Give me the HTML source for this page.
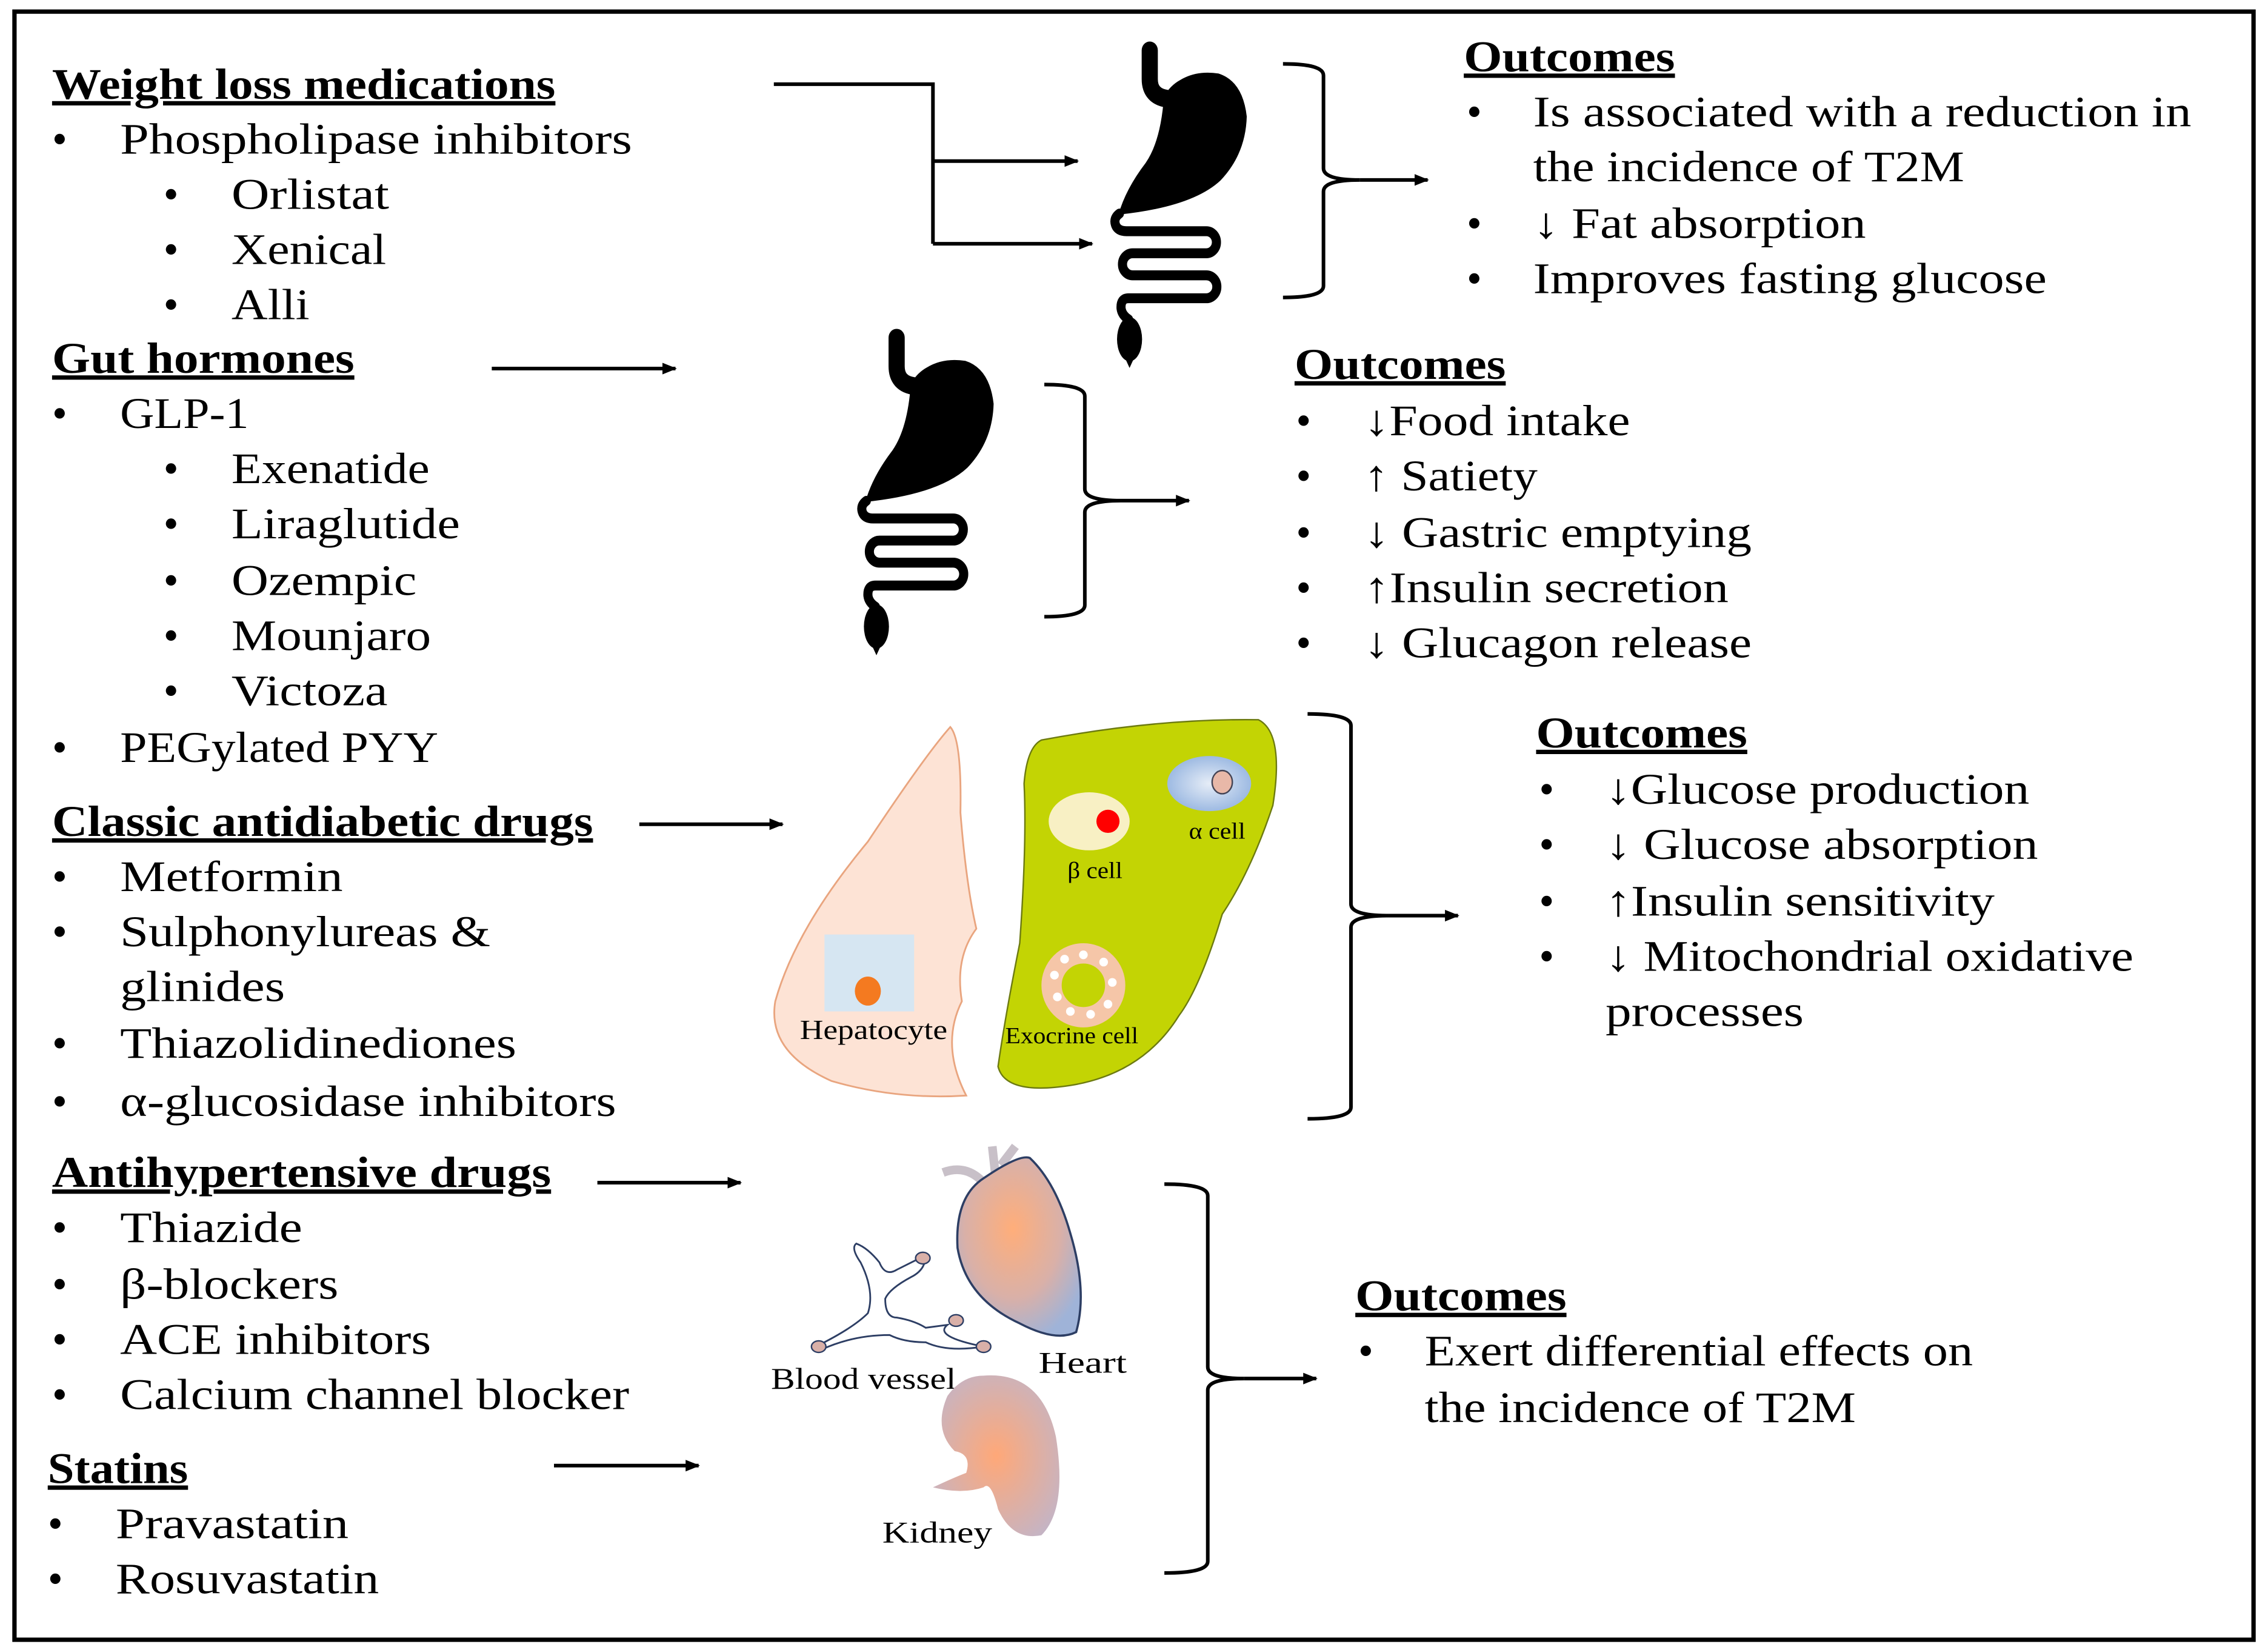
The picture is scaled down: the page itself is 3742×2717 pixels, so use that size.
<!DOCTYPE html>
<html><head><meta charset="utf-8"><style>
html,body{margin:0;padding:0;background:#fff}
svg{display:block}
text{font-family:"Liberation Serif",serif;font-size:30px;fill:#000}
.h{font-weight:bold;text-decoration:underline}
.s{font-size:19px}
</style></head><body>
<svg width="3742" height="2717" viewBox="0 0 1568 1135" preserveAspectRatio="none" xmlns="http://www.w3.org/2000/svg">
<defs>
<marker id="a" markerWidth="10" markerHeight="10" refX="9" refY="5" orient="auto" markerUnits="userSpaceOnUse"><path d="M0,1 L10,5 L0,9 Z" fill="#000"/></marker>
<radialGradient id="hg" cx="45%" cy="40%" r="65%"><stop offset="0" stop-color="#ffae7a"/><stop offset="0.6" stop-color="#d9b0a8"/><stop offset="1" stop-color="#9fb3d8"/></radialGradient>
<radialGradient id="kg" cx="50%" cy="50%" r="60%"><stop offset="0" stop-color="#ffa878"/><stop offset="1" stop-color="#c5b4c4"/></radialGradient>
<radialGradient id="ag" cx="50%" cy="50%" r="60%"><stop offset="0" stop-color="#e6edf7"/><stop offset="1" stop-color="#8fb0de"/></radialGradient>
<g id="gut">
<path d="M350,90 V220 Q350,300 440,310" fill="none" stroke="#000" stroke-width="80" stroke-linecap="round"/>
<path d="M420,300 Q450,250 500,225 Q580,180 690,195 Q810,230 830,390 Q825,560 700,680 Q560,800 195,835 Q230,720 330,600 Q405,500 420,300 Z" fill="#000"/>
<path d="M200,830 Q170,850 180,880 Q190,910 235,910 H630 A50,50 0 0 1 630,1010 H265 A50,50 0 0 0 265,1110 H630 A52,52 0 0 1 630,1214 H245 Q205,1214 208,1260 Q212,1290 245,1310" fill="none" stroke="#000" stroke-width="45" stroke-linecap="round"/>
<ellipse cx="250" cy="1400" rx="62" ry="100" fill="#000"/>
<path d="M225,1480 L250,1530 L275,1480 Z" fill="#000"/>
</g>
</defs>
<rect x="10" y="8" width="1548" height="1122" fill="none" stroke="#000" stroke-width="3"/>

<g lengthAdjust="spacingAndGlyphs">
<text x="36" y="68" class="h" textLength="348" lengthAdjust="spacingAndGlyphs">Weight loss medications</text>
<text x="36" y="106">•</text><text x="83" y="106" textLength="354" lengthAdjust="spacingAndGlyphs">Phospholipase inhibitors</text>
<text x="113" y="144">•</text><text x="160" y="144" textLength="109" lengthAdjust="spacingAndGlyphs">Orlistat</text>
<text x="113" y="182">•</text><text x="160" y="182" textLength="107" lengthAdjust="spacingAndGlyphs">Xenical</text>
<text x="113" y="220">•</text><text x="160" y="220" textLength="54" lengthAdjust="spacingAndGlyphs">Alli</text>
<text x="36" y="257" class="h" textLength="209" lengthAdjust="spacingAndGlyphs">Gut hormones</text>
<text x="36" y="295">•</text><text x="83" y="295" textLength="89" lengthAdjust="spacingAndGlyphs">GLP-1</text>
<text x="113" y="333">•</text><text x="160" y="333" textLength="137" lengthAdjust="spacingAndGlyphs">Exenatide</text>
<text x="113" y="371">•</text><text x="160" y="371" textLength="158" lengthAdjust="spacingAndGlyphs">Liraglutide</text>
<text x="113" y="410">•</text><text x="160" y="410" textLength="128" lengthAdjust="spacingAndGlyphs">Ozempic</text>
<text x="113" y="448">•</text><text x="160" y="448" textLength="138" lengthAdjust="spacingAndGlyphs">Mounjaro</text>
<text x="113" y="486">•</text><text x="160" y="486" textLength="108" lengthAdjust="spacingAndGlyphs">Victoza</text>
<text x="36" y="525">•</text><text x="83" y="525" textLength="220" lengthAdjust="spacingAndGlyphs">PEGylated PYY</text>
<text x="36" y="576" class="h" textLength="374" lengthAdjust="spacingAndGlyphs">Classic antidiabetic  drugs</text>
<text x="36" y="614">•</text><text x="83" y="614" textLength="154" lengthAdjust="spacingAndGlyphs">Metformin</text>
<text x="36" y="652">•</text><text x="83" y="652" textLength="256" lengthAdjust="spacingAndGlyphs">Sulphonylureas &amp;</text>
<text x="83" y="690" textLength="114" lengthAdjust="spacingAndGlyphs">glinides</text>
<text x="36" y="729">•</text><text x="83" y="729" textLength="274" lengthAdjust="spacingAndGlyphs">Thiazolidinediones</text>
<text x="36" y="769">•</text><text x="83" y="769" textLength="343" lengthAdjust="spacingAndGlyphs">α-glucosidase inhibitors</text>
<text x="36" y="818" class="h" textLength="345" lengthAdjust="spacingAndGlyphs">Antihypertensive  drugs</text>
<text x="36" y="856">•</text><text x="83" y="856" textLength="126" lengthAdjust="spacingAndGlyphs">Thiazide</text>
<text x="36" y="895">•</text><text x="83" y="895" textLength="151" lengthAdjust="spacingAndGlyphs">β-blockers</text>
<text x="36" y="933">•</text><text x="83" y="933" textLength="215" lengthAdjust="spacingAndGlyphs">ACE inhibitors</text>
<text x="36" y="971">•</text><text x="83" y="971" textLength="352" lengthAdjust="spacingAndGlyphs">Calcium channel blocker</text>
<text x="33" y="1022" class="h" textLength="97" lengthAdjust="spacingAndGlyphs">Statins</text>
<text x="33" y="1060">•</text><text x="80" y="1060" textLength="161" lengthAdjust="spacingAndGlyphs">Pravastatin</text>
<text x="33" y="1098">•</text><text x="80" y="1098" textLength="182" lengthAdjust="spacingAndGlyphs">Rosuvastatin</text>
</g>

<!-- arrows -->
<g stroke="#000" stroke-width="2.5" fill="none">
<path d="M535,58 H645 V168"/>
<path d="M645,111 H745" marker-end="url(#a)"/>
<path d="M645,168 H755" marker-end="url(#a)"/>
<path d="M340,254 H467" marker-end="url(#a)"/>
<path d="M442,568 H541" marker-end="url(#a)"/>
<path d="M413,815 H512" marker-end="url(#a)"/>
<path d="M383,1010 H483" marker-end="url(#a)"/>
<path d="M887,44 Q915,44 915,52 V116 Q915,124 940,124 Q915,124 915,132 V197 Q915,205 887,205"/>
<path d="M940,124 H987" marker-end="url(#a)"/>
<path d="M722,265 Q750,265 750,273 V337 Q750,345 775,345 Q750,345 750,353 V417 Q750,425 722,425"/>
<path d="M775,345 H822" marker-end="url(#a)"/>
<path d="M904,492 Q934,492 934,500 V623 Q934,631 960,631 Q934,631 934,639 V763 Q934,771 904,771"/>
<path d="M960,631 H1008" marker-end="url(#a)"/>
<path d="M805,816 Q835,816 835,824 V942 Q835,950 860,950 Q835,950 835,958 V1076 Q835,1084 805,1084"/>
<path d="M860,950 H910" marker-end="url(#a)"/>
</g>

<!-- guts -->
<use href="#gut" transform="translate(746,21) scale(0.1397,0.152)"/>
<use href="#gut" transform="translate(571,219) scale(0.1397,0.152)"/>

<!-- liver -->
<path d="M657,501 Q665,510 664,560 Q668,610 675,640 Q660,660 665,690 Q650,720 668,755 Q620,758 575,745 Q530,725 536,690 Q550,640 600,580 Q640,520 657,501 Z" fill="#fde3d5" stroke="#e9a57f" stroke-width="1.2"/>
<rect x="570" y="644" width="62" height="53" fill="#d6e6f2"/>
<ellipse cx="600" cy="683" rx="9" ry="10" fill="#f47a20"/>
<text x="553" y="716" class="s" textLength="102" lengthAdjust="spacingAndGlyphs">Hepatocyte</text>
<!-- pancreas -->
<path d="M720,510 Q800,495 870,496 Q888,505 880,555 Q865,600 845,630 Q830,680 815,700 Q790,740 740,748 Q695,755 690,735 Q695,700 705,650 Q710,580 708,540 Q710,515 720,510 Z" fill="#c3d404" stroke="#6c7a10" stroke-width="1"/>
<ellipse cx="753" cy="566" rx="28" ry="20" fill="#f8f0c4"/>
<circle cx="766" cy="566" r="8" fill="#f00"/>
<text x="738" y="605" style="font-size:16px" textLength="38" lengthAdjust="spacingAndGlyphs">β cell</text>
<ellipse cx="836" cy="540" rx="29" ry="19" fill="url(#ag)"/>
<ellipse cx="845" cy="539" rx="7" ry="8" fill="#e8b8a8" stroke="#445" stroke-width="1"/>
<text x="822" y="578" style="font-size:16px" textLength="39" lengthAdjust="spacingAndGlyphs">α cell</text>
<circle cx="749" cy="679" r="22" fill="none" stroke="#f5c6a8" stroke-width="14"/>
<g fill="#fff"><circle cx="749" cy="658" r="3"/><circle cx="763" cy="663" r="3"/><circle cx="769" cy="677" r="3"/><circle cx="766" cy="692" r="3"/><circle cx="754" cy="699" r="3"/><circle cx="740" cy="697" r="3"/><circle cx="731" cy="687" r="3"/><circle cx="729" cy="672" r="3"/><circle cx="736" cy="661" r="3"/></g>
<text x="695" y="719" style="font-size:16px" textLength="92" lengthAdjust="spacingAndGlyphs">Exocrine cell</text>

<!-- heart -->
<path d="M652,808 Q668,802 680,815 M688,808 L686,790 M692,803 L702,790" stroke="#c8c0c8" stroke-width="6" fill="none"/>
<path d="M680,812 Q705,795 712,798 Q730,815 740,850 Q752,890 744,918 Q730,925 705,912 Q668,895 662,860 Q660,825 680,812 Z" fill="url(#hg)" stroke="#2d3e64" stroke-width="1.5"/>
<text x="718" y="946" style="font-size:21px" textLength="61" lengthAdjust="spacingAndGlyphs">Heart</text>
<!-- vessel -->
<path d="M566,927 Q590,915 600,905 Q605,890 595,870 Q588,860 592,857 Q600,860 608,870 Q612,880 620,875 Q630,870 640,865 Q640,875 630,880 Q615,888 612,895 Q612,908 620,908 Q632,910 640,915 L655,913 Q645,921 680,928 Q655,932 640,925 Q625,925 615,920 Q590,920 568,930 Z" fill="#fff" stroke="#2d3e64" stroke-width="1.2"/>
<ellipse cx="566" cy="928" rx="5" ry="4" fill="#d9b0a8" stroke="#2d3e64"/>
<ellipse cx="638" cy="867" rx="5" ry="4" fill="#d9b0a8" stroke="#2d3e64"/>
<ellipse cx="661" cy="910" rx="5" ry="4" fill="#d9b0a8" stroke="#2d3e64"/>
<ellipse cx="680" cy="928" rx="5" ry="4" fill="#d9b0a8" stroke="#2d3e64"/>
<text x="533" y="957" style="font-size:21px" textLength="128" lengthAdjust="spacingAndGlyphs">Blood vessel</text>
<!-- kidney -->
<path d="M680,948 Q720,945 730,990 Q738,1040 720,1058 Q700,1062 690,1040 Q685,1020 680,1025 Q665,1030 645,1025 Q660,1018 668,1015 Q672,1002 660,1000 Q645,985 655,962 Q665,948 680,948 Z" fill="url(#kg)"/>
<text x="610" y="1063" style="font-size:21px" textLength="76" lengthAdjust="spacingAndGlyphs">Kidney</text>

<!-- outcomes -->
<text x="1012" y="49" class="h" textLength="146" lengthAdjust="spacingAndGlyphs">Outcomes</text>
<text x="1014" y="87">•</text><text x="1060" y="87" textLength="455" lengthAdjust="spacingAndGlyphs">Is associated with a reduction in</text>
<text x="1060" y="125" textLength="298" lengthAdjust="spacingAndGlyphs">the incidence of T2M</text>
<text x="1014" y="164">•</text><text x="1060" y="164" textLength="230" lengthAdjust="spacingAndGlyphs">↓ Fat absorption</text>
<text x="1014" y="202">•</text><text x="1060" y="202" textLength="355" lengthAdjust="spacingAndGlyphs">Improves fasting glucose</text>

<text x="895" y="261" class="h" textLength="146" lengthAdjust="spacingAndGlyphs">Outcomes</text>
<text x="896" y="300">•</text><text x="943" y="300" textLength="184" lengthAdjust="spacingAndGlyphs">↓Food intake</text>
<text x="896" y="338">•</text><text x="943" y="338" textLength="120" lengthAdjust="spacingAndGlyphs">↑ Satiety</text>
<text x="896" y="377">•</text><text x="943" y="377" textLength="268" lengthAdjust="spacingAndGlyphs">↓ Gastric emptying</text>
<text x="896" y="415">•</text><text x="943" y="415" textLength="252" lengthAdjust="spacingAndGlyphs">↑Insulin secretion</text>
<text x="896" y="453">•</text><text x="943" y="453" textLength="268" lengthAdjust="spacingAndGlyphs">↓ Glucagon release</text>

<text x="1062" y="515" class="h" textLength="146" lengthAdjust="spacingAndGlyphs">Outcomes</text>
<text x="1064" y="554">•</text><text x="1110" y="554" textLength="293" lengthAdjust="spacingAndGlyphs">↓Glucose production</text>
<text x="1064" y="592">•</text><text x="1110" y="592" textLength="299" lengthAdjust="spacingAndGlyphs">↓ Glucose absorption</text>
<text x="1064" y="631">•</text><text x="1110" y="631" textLength="269" lengthAdjust="spacingAndGlyphs">↑Insulin sensitivity</text>
<text x="1064" y="669">•</text><text x="1110" y="669" textLength="365" lengthAdjust="spacingAndGlyphs">↓ Mitochondrial oxidative</text>
<text x="1110" y="707" textLength="137" lengthAdjust="spacingAndGlyphs">processes</text>

<text x="937" y="903" class="h" textLength="146" lengthAdjust="spacingAndGlyphs">Outcomes</text>
<text x="939" y="941">•</text><text x="985" y="941" textLength="379" lengthAdjust="spacingAndGlyphs">Exert differential effects on</text>
<text x="985" y="980" textLength="298" lengthAdjust="spacingAndGlyphs">the incidence of T2M</text>
</svg>
</body></html>
